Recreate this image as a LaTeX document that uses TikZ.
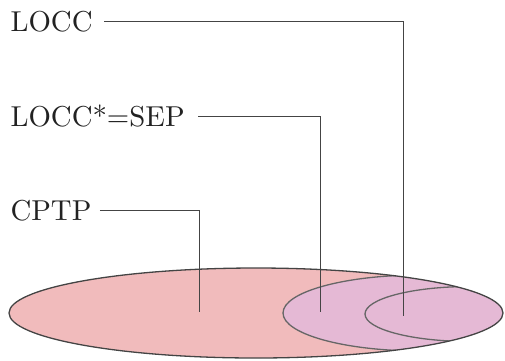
\documentclass[tikz,border=0pt]{standalone}
\usepackage{tikz}
\definecolor{outerfill}{HTML}{F1BBBC}
\definecolor{innerfill}{HTML}{E5B9D5}
\definecolor{outerline}{HTML}{444444}
\definecolor{innerline}{HTML}{666666}
\definecolor{txt}{HTML}{222222}
\tikzset{
  lbl/.style={inner sep=0pt, anchor=base west, text=txt, scale=2.88, font=\fontsize{10}{12}\selectfont},
  conn/.style={draw=outerline, line width=0.9pt},
  outerset/.style={draw=outerline, line width=1.3pt},
  innerset/.style={draw=innerline, line width=1.3pt, fill=innerfill}
}
\begin{document}
\begin{tikzpicture}[x=1pt,y=-1pt]
\useasboundingbox (0,0) rectangle (505,360);
% sets
\fill[outerfill] (256,313) ellipse [x radius=247, y radius=45];
\begin{scope}
  \clip (256,313) ellipse [x radius=247, y radius=45];
  \path[innerset] (420,313) ellipse [x radius=137, y radius=38];
  \path[innerset] (470,314) ellipse [x radius=105, y radius=27.5];
\end{scope}
\draw[outerset] (256,313) ellipse [x radius=247, y radius=45];
% labels
\node[lbl] (locc) at (10,31.7) {LOCC};
\node[lbl] (sep) at (10,126.7) {LOCC*=SEP};
\node[lbl] (cptp) at (10,220.5) {CPTP};
% connector ends
\coordinate (mlocc) at (403,316);
\coordinate (msep) at (320,311.5);
\coordinate (mcptp) at (199.5,311.5);
\draw[conn] (locc.base east) ++(11,-10) -| (mlocc);
\draw[conn] (sep.base east) ++(13,-10) -| (msep);
\draw[conn] (cptp.base east) ++(8,-10) -| (mcptp);
\end{tikzpicture}
\end{document}
